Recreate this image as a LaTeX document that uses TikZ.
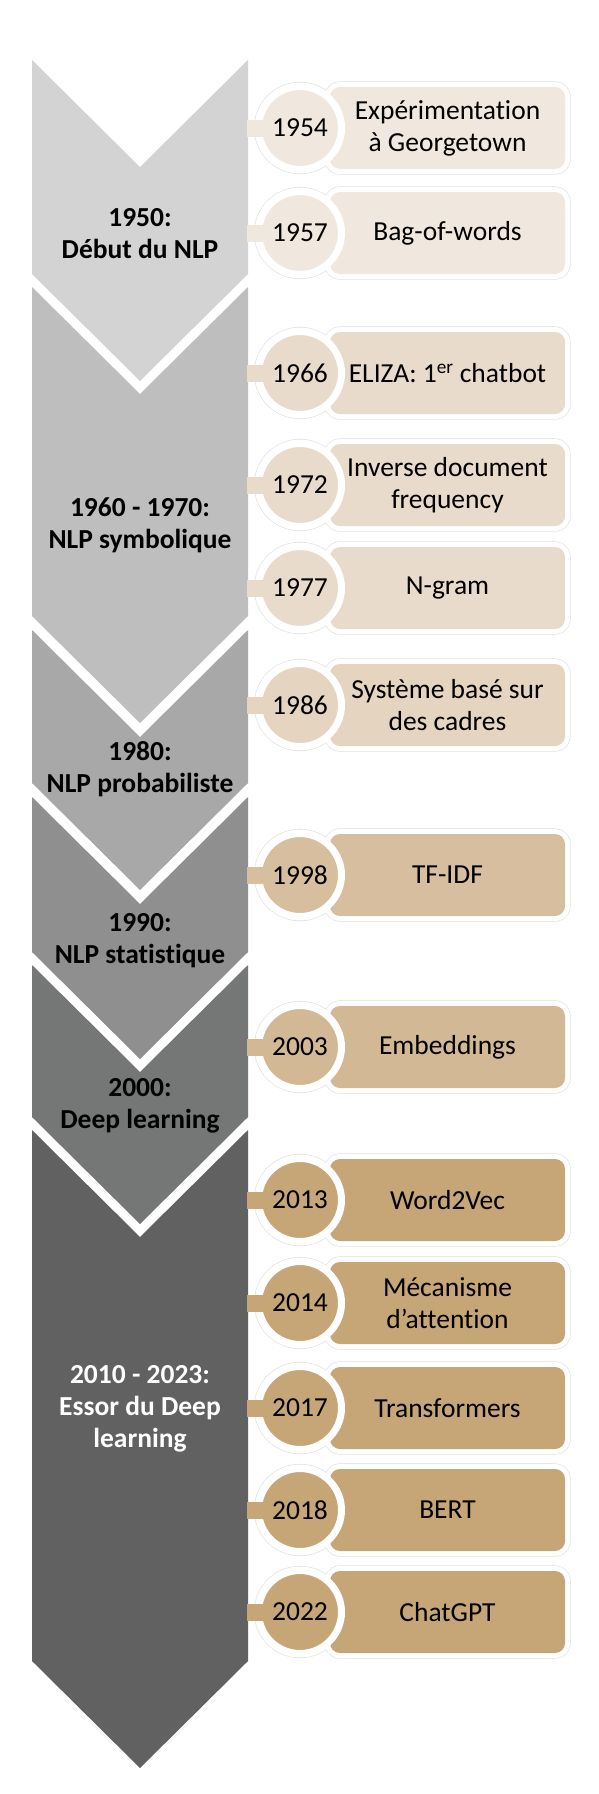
\documentclass[tikz,border=0pt]{standalone}
\usepackage{fontspec}
\setmainfont{Carlito}[Ligatures=NoCommon]
\definecolor{g1}{HTML}{D3D3D3}
\definecolor{g2}{HTML}{BEBEBE}
\definecolor{g3}{HTML}{A8A8A8}
\definecolor{g4}{HTML}{8F8F8F}
\definecolor{g5}{HTML}{757776}
\definecolor{g6}{HTML}{616161}
\definecolor{i1}{HTML}{F0E8DF}
\definecolor{i2}{HTML}{E8DBCB}
\definecolor{i3}{HTML}{E4D4C0}
\definecolor{i4}{HTML}{D6BE9F}
\definecolor{i5}{HTML}{D3B895}
\definecolor{i6}{HTML}{C6A577}
\tikzset{
  era/.style={align=center, inner sep=0pt, font=\bfseries\fontsize{27.5}{32}\selectfont},
  yearc/.style={circle, minimum size=83pt, inner sep=0pt, draw=white, line width=7pt,
                font=\fontsize{27.5}{32}\selectfont},
  evbox/.style={rectangle, rounded corners=10pt, minimum width=235pt, minimum height=82pt,
                inner sep=0pt, align=center, font=\fontsize{27.5}{32}\selectfont},
  tabline/.style={line width=17pt},
  halo/.style={draw=black!13, line width=1.2pt},
}
\newcommand\chevshape[3]{%
  \fill[#1] (32,#2) -- (140,{#2+107}) -- (248,#2) -- (248,#3) -- (140,{#3+107}) -- (32,#3) -- cycle;}
\newcommand\tlev[5]{%
  \draw[halo, rounded corners=15pt] (325,{#2-46}) rectangle (570,{#2+46});
  \draw[halo] (300,#2) circle[radius=45.5pt];
  \fill[white, rounded corners=15pt] (325,{#2-46}) rectangle (570,{#2+46});
  \fill[white] (300,#2) circle[radius=45.5pt];
  \node[evbox, fill=#5] (t#1) at (447.5,#2) {#4};
  \node[yearc, fill=#5] (y#1) at (300,#2) {#3};
  \coordinate (s#1) at (247,#2);
  \draw[tabline, draw=#5, shorten >=-9pt] (s#1) -- (y#1.west);
}
\begin{document}
\begin{tikzpicture}[x=1pt,y=-1pt]
\useasboundingbox[fill=white] (0,0) rectangle (598,1794);
% chevrons
\chevshape{g1}{60}{274}
\chevshape{g2}{287}{616}
\chevshape{g3}{630}{783}
\chevshape{g4}{797}{952}
\chevshape{g5}{965}{1117}
\chevshape{g6}{1130}{1661}
% era labels
\node[era] (e1) at (140,234) {1950:\\Début du NLP};
\node[era] (e2) at (140,525) {1960 - 1970:\\NLP symbolique};
\node[era] (e3) at (140,769) {1980:\\NLP probabiliste};
\node[era] (e4) at (140,941) {1990:\\NLP statistique};
\node[era] (e5) at (140,1106) {2000:\\Deep learning};
\node[era, text=white] (e6) at (140,1409) {2010 - 2023:\\Essor du Deep\\learning};
% events
\tlev{a}{128}{1954}{Expérimentation\\à Georgetown}{i1}
\tlev{b}{233}{1957}{Bag-of-words}{i1}
\tlev{c}{373}{1966}{ELIZA: 1\textsuperscript{er} chatbot}{i2}
\tlev{d}{485}{1972}{Inverse document\\frequency}{i2}
\tlev{e}{588}{1977}{N-gram}{i2}
\tlev{f}{705}{1986}{Système basé sur\\des cadres}{i3}
\tlev{g}{875}{1998}{TF-IDF}{i4}
\tlev{h}{1047}{2003}{Embeddings}{i5}
\tlev{i}{1200}{2013}{Word2Vec}{i6}
\tlev{j}{1303}{2014}{Mécanisme\\d’attention}{i6}
\tlev{k}{1408}{2017}{Transformers}{i6}
\tlev{l}{1510}{2018}{BERT}{i6}
\tlev{m}{1612}{2022}{ChatGPT}{i6}
\end{tikzpicture}
\end{document}
